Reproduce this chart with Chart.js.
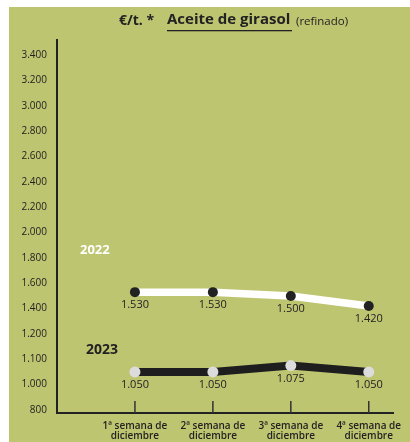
<!DOCTYPE html>
<html>
<head>
<meta charset="utf-8">
<script src="https://cdn.jsdelivr.net/npm/chart.js@4"></script>
<style>
  body { margin: 0; background: #fff; }
  #wrap { width: 410px; height: 442px; position: relative; }
</style>
</head>
<body>
<div id="wrap"><canvas id="oilChart"></canvas></div>
<script>
// semanas de diciembre
var weeks = [['1ª semana de', 'diciembre'], ['2ª semana de', 'diciembre'], ['3ª semana de', 'diciembre'], ['4ª semana de', 'diciembre']];
var weekPos = [1, 2, 3, 4];
var prices2022 = [1530, 1530, 1500, 1420];
var prices2023 = [1050, 1050, 1075, 1050];
// el eje vertical no es lineal: cada etiqueta ocupa el mismo espacio
var yTickValues = [800, 1000, 1100, 1200, 1400, 1600, 1800, 2000, 2200, 2400, 2600, 2800, 3000, 3200, 3400];

var green = '#bec571';
var dark = '#222222';

function fmt(v) {
    return v.toString().replace(/\B(?=(\d{3})+(?!\d))/g, '.');
}

// valor -> posicion en el eje (interpolando entre etiquetas)
function toPos(v) {
    for (var i = 0; i < yTickValues.length - 1; i++) {
        var a = yTickValues[i], b = yTickValues[i + 1];
        if (v >= a && v <= b) return i + (v - a) / (b - a);
    }
    return v < yTickValues[0] ? 0 : yTickValues.length - 1;
}

function series(vals) {
    return vals.map(function (v, i) { return { x: weekPos[i], y: toPos(v), v: v }; });
}

var bgPlugin = {
    id: 'bg',
    beforeDraw: function (chart) {
        var c = chart.ctx;
        c.save();
        c.fillStyle = green;
        c.fillRect(9, 7, chart.width - 9, chart.height - 7);
        c.restore();
    }
};

var extrasPlugin = {
    id: 'extras',
    afterDraw: function (chart) {
        var c = chart.ctx;
        var xs = chart.scales.x, ys = chart.scales.y;
        c.save();
        // marcas del eje x hacia arriba
        c.strokeStyle = '#333';
        c.lineWidth = 1.5;
        weekPos.forEach(function (p) {
            var px = xs.getPixelForValue(p);
            c.beginPath();
            c.moveTo(px, ys.bottom);
            c.lineTo(px, ys.bottom - 12);
            c.stroke();
        });
        // valores debajo de cada punto
        c.fillStyle = dark;
        c.font = '11px "Open Sans"';
        c.textAlign = 'center';
        c.textBaseline = 'middle';
        chart.data.datasets.forEach(function (ds, di) {
            var meta = chart.getDatasetMeta(di);
            meta.data.forEach(function (pt, i) {
                c.fillText(fmt(ds.data[i].v), pt.x, pt.y + 13);
            });
        });
        // años
        c.textAlign = 'left';
        c.font = 'bold 13px "Open Sans"';
        c.fillStyle = '#ffffff';
        c.fillText('2022', 80, 250, 32);
        c.font = 'bold 14px "Open Sans"';
        c.fillStyle = dark;
        c.fillText('2023', 86, 350, 32);
        // titulo
        c.font = 'bold 14px "Open Sans"';
        c.fillText('€/t. *', 119, 21, 38);
        c.font = 'bold 15px "Open Sans"';
        c.fillText('Aceite de girasol', 167, 20, 126);
        c.fillRect(167, 30, 125, 1.3);
        c.font = '11.5px "Open Sans"';
        c.fillText('(refinado)', 296, 22, 58);
        c.restore();
    }
};

var ctx = document.getElementById('oilChart').getContext('2d');
var oilChart = new Chart(ctx, {
    type: 'line',
    data: {
        datasets: [{
            label: '2022',
            data: series(prices2022),
            borderColor: '#ffffff',
            borderWidth: 7.5,
            pointRadius: 5,
            pointBackgroundColor: dark,
            pointBorderWidth: 0,
            tension: 0
        }, {
            label: '2023',
            data: series(prices2023),
            borderColor: '#1e1e1e',
            borderWidth: 8,
            pointRadius: 5.5,
            pointBackgroundColor: '#dcdcdc',
            pointBorderWidth: 0,
            tension: 0
        }]
    },
    options: {
        responsive: true,
        maintainAspectRatio: false,
        animation: false,
        layout: { padding: { left: 9, top: 40, right: 12, bottom: 0 } },
        plugins: {
            legend: { display: false },
            tooltip: { enabled: false }
        },
        scales: {
            x: {
                type: 'linear',
                min: 0,
                max: 4.32,
                afterBuildTicks: function (s) { s.ticks = weekPos.map(function (p) { return { value: p }; }); },
                afterFit: function (s) { s.height = 29; },
                grid: { display: false, drawTicks: false },
                border: { display: true, color: dark, width: 2 },
                ticks: {
                    padding: 8,
                    maxRotation: 0,
                    color: dark,
                    font: { family: 'Open Sans', size: 10, weight: '600', lineHeight: 1.0 },
                    callback: function (v) { return weeks[weekPos.indexOf(v)]; }
                }
            },
            y: {
                min: -0.12,
                max: 14.6,
                afterBuildTicks: function (s) { s.ticks = yTickValues.map(function (v, i) { return { value: i }; }); },
                afterFit: function (s) { s.width = 48; },
                grid: { display: false, drawTicks: false },
                border: { display: true, color: dark, width: 2 },
                ticks: {
                    padding: 10,
                    color: dark,
                    font: { family: 'Open Sans', size: 10 },
                    callback: function (v) { return fmt(yTickValues[v]); }
                }
            }
        }
    },
    plugins: [bgPlugin, extrasPlugin]
});
</script>
</body>
</html>
